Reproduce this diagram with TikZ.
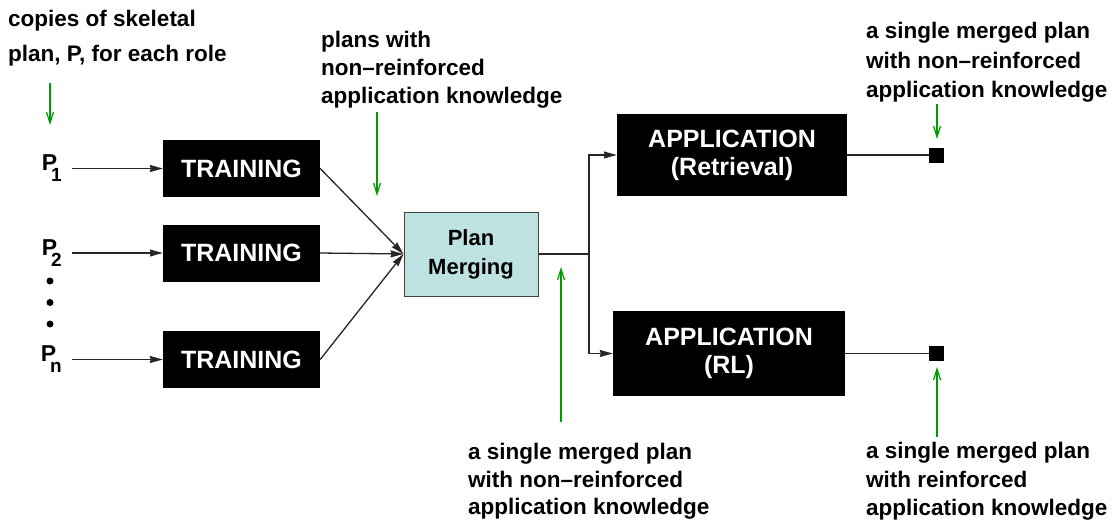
\documentclass[tikz,border=0pt]{standalone}
\usepackage{fontspec}
\setmainfont{Liberation Sans}
\usetikzlibrary{arrows.meta}
\definecolor{mergefill}{RGB}{190,226,226}
\definecolor{guide}{RGB}{0,155,0}
\newcommand{\rolesub}[1]{\kern-6pt\raisebox{-0.48em}{\fontsize{19}{19}\selectfont #1}}
\begin{document}
\begin{tikzpicture}[x=1pt,y=-1pt,
  blackbox/.style={fill=black, text=white, inner sep=0pt, align=center,
    font=\bfseries\fontsize{25}{28}\selectfont},
  trainbox/.style={blackbox, minimum width=157pt, minimum height=57pt},
  mergebox/.style={fill=mergefill, draw=black!75, line width=1pt, inner sep=0pt,
    minimum width=134pt, minimum height=84pt, align=center,
    font=\bfseries\fontsize{22}{29}\selectfont},
  note/.style={anchor=north west, inner sep=0pt, align=left,
    font=\bfseries\fontsize{22.5}{28}\selectfont},
  plab/.style={inner sep=0pt, anchor=east, font=\bfseries\fontsize{23}{23}\selectfont},
  flow/.style={line width=1.3pt, draw=black!85},
  flowarrow/.style={flow, -{Stealth[length=13pt,width=7pt,inset=1pt]}},
  guidearrow/.style={draw=guide, line width=1.2pt, -{Straight Barb[length=11pt,width=7pt]}},
  endsq/.style={fill=black, minimum size=15pt, inner sep=0pt},
  vdot/.style={circle, fill=black, minimum size=7pt, inner sep=0pt}]
\useasboundingbox (0,0) rectangle (1115,523);

% processing blocks
\node[trainbox] (t1) at (241.5,168.5) {TRAINING};
\node[trainbox] (t2) at (241.5,253) {TRAINING};
\node[trainbox] (t3) at (241.5,359.5) {TRAINING};
\node[mergebox] (m) at (471,254) {Plan\\Merging};
\node[blackbox, minimum width=230pt, minimum height=82pt] (a1) at (732,155) {APPLICATION\\(Retrieval)};
\node[blackbox, minimum width=232pt, minimum height=85pt] (a2) at (729,353.5) {APPLICATION\\(RL)};
\node[endsq] (s1) at (936.5,155) {};
\node[endsq] (s2) at (936.5,353.5) {};

% role copies of the skeletal plan
\node[plab] (p1) at (62,168.5) {P\rolesub{1}};
\node[plab] (p2) at (62,253) {P\rolesub{2}};
\node[plab] (pn) at (62,359.5) {P\rolesub{n}};
\node[vdot] (d1) at (50,281) {};
\node[vdot] (d2) at (50,302.5) {};
\node[vdot] (d3) at (50,324) {};

% flow connectors
\draw[flowarrow] ([xshift=10pt]p1.east) -- (t1.west);
\draw[flowarrow] ([xshift=10pt]p2.east) -- (t2.west);
\draw[flowarrow] ([xshift=10pt]pn.east) -- (t3.west);
\draw[flowarrow] (t1.east) -- (m.west);
\draw[flowarrow] (t2.east) -- (m.west);
\draw[flowarrow] (t3.east) -- (m.west);
\coordinate (j) at (589,254);
\draw[flow] (m.east) -- (j);
\draw[flowarrow] (j) |- (a1.west);
\draw[flowarrow] (j) |- (a2.west);
\draw[flow] (a1.east) -- (s1.west);
\draw[flow] (a2.east) -- (s2.west);

% annotations
\node[note, font=\bfseries\fontsize{22.5}{35}\selectfont] (n1) at (8,10) {copies of skeletal\\plan, P, for each role};
\node[note] (n2) at (321,31) {plans with\\non–reinforced\\application knowledge};
\node[note, font=\bfseries\fontsize{22.5}{27.5}\selectfont] (n3) at (468,443) {a single merged plan\\with non–reinforced\\application knowledge};
\node[note, font=\bfseries\fontsize{22.5}{29.5}\selectfont] (n4) at (866,22) {a single merged plan\\with non–reinforced\\application knowledge};
\node[note, font=\bfseries\fontsize{22.5}{28.5}\selectfont] (n5) at (866,442) {a single merged plan\\with reinforced\\application knowledge};

% pointers from annotations
\coordinate (g1a) at (50,83);   \coordinate (g1b) at (50,125);
\coordinate (g2a) at (377,112); \coordinate (g2b) at (377,196);
\coordinate (g3a) at (561,422); \coordinate (g3b) at (561,267);
\coordinate (g4a) at (937,104); \coordinate (g4b) at (937,139);
\coordinate (g5a) at (937,437); \coordinate (g5b) at (937,367);
\draw[guidearrow] (g1a) -- (g1b);
\draw[guidearrow] (g2a) -- (g2b);
\draw[guidearrow] (g3a) -- (g3b);
\draw[guidearrow] (g4a) -- (g4b);
\draw[guidearrow] (g5a) -- (g5b);
\end{tikzpicture}
\end{document}
